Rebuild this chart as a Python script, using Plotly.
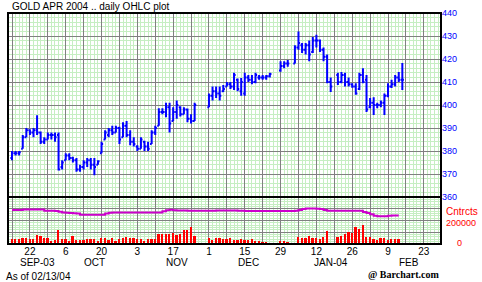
import pandas as pd
import plotly.graph_objects as go

# ---------------- data ----------------
trade_days = [d.strftime("%Y-%m-%d") for d in pd.bdate_range("2003-09-15", "2004-02-27")]
n_data = 110

opens = [377,379,379,381,386,389,388,389,388,384,
         385,387,387,387,373,376,378,377,376,372,
         373,375,376,374,374,379,385,387,389,388,
         390,386,391,387,384,382,381,384,382,383,
         388,391,397,397,399,393,397,399,396,398,
         394,393,None,None,None,399,404,406,405,406,
         408,409,408,411,406,405,412,411,410,412,
         412,412,412.5,None,None,415,417,418,None,418,
         425,426,424,426,423,428,428,424,421,410,
         None,413,410,413,410,409,408,407,413,411,
         399,401,400,400,401,404,408,409,412,411]
highs = [380,380,380,387,390,389.5,390,395.5,388.5,386,
         388,388,388,388,376,379,379,377.5,377,374,
         376,377,377,377,376,384,389,390,391,391,
         390.5,392.5,393,389,386,382.5,386,384.5,384,389,
         391,398.6,398.6,401,401,399,402,399.5,399,398.5,
         396,401,None,None,None,405,408,408,408,408.7,
         410,410,414,411.5,411.7,414,413,413,414,413,
         413,413,414,None,None,419,419,419.6,None,426,
         432,427,427,428,429.6,430.5,428.5,425,422,412,
         None,414,414.4,414,412,409.5,409.5,414,416,413,
         403,403.4,401,402,405,409.5,411,413,414.4,418.3]
lows = [376,378,378,381,386,387,386,387,383,383,
        385,385,384,371.5,372,376,376,375,371,371,
        372,373,372,369.5,374,379,385,386,387,388,
        383,386,386,382.5,382,380,381,380,380,383,
        387,391,396,394.7,388,393,394,395,396,392.5,
        392,393,None,None,None,399,402,403,402,405.6,
        408,407,406.5,406,404,404,410,409,409.5,411,
        411,411,412,None,None,414.5,416,416.6,None,418,
        424,422.6,422,419,422.6,425,423,419,409.5,405.6,
        None,408.7,409.5,408,408,407.5,404.5,406.5,409.5,397,
        398.6,395.6,398.6,399,395.6,403.4,407.4,408,410,406.5]
closes = [379,379,379.5,386,389,388,389,388,384,385,
          387,387,386,372,375,378,377,376,372,373,
          375,376,374,373,375.5,383,388,389,388,390,
          385,391,387,384,383,381,385,382,381,388,
          390,397,397,399,392,397,400,396,398,394,
          393,400,None,None,None,404,406,405,404,407,
          409,408,413,407,410,412,411,410,413,412,
          412,412.5,413.5,None,None,417,418,418,None,425,
          427,424,426,422,428,428,424,421,410,408,
          None,410,413,410,409,408,405,413,410,398,
          401,400,400,401,404,408,409,412,411,411]

volume = [40000,40000,46000,53000,53000,40000,46000,76000,67000,53000,
          53000,29000,37000,116000,43000,43000,23000,67000,32000,34000,
          34000,43000,43000,43000,23000,53000,53000,32000,53000,23000,
          46000,53000,61000,53000,53000,43000,43000,23000,43000,43000,
          43000,84000,81000,84000,84000,96000,76000,84000,116000,116000,
          148000,67000,None,None,None,53000,37000,53000,53000,46000,
          46000,53000,37000,37000,43000,34000,37000,46000,23000,23000,
          17000,12000,None,None,None,23000,23000,12000,None,None,
          61000,53000,53000,70000,53000,53000,43000,61000,110000,None,
          None,58000,64000,84000,99000,96000,148000,127000,163000,58000,
          58000,40000,32000,53000,53000,32000,46000,46000,46000,None]

open_interest = [289,289,289,294,294,294,294,294,294,284,
                 283,282,280,274,268,265,263,262,259,250,
                 248,248,248,248,248,249,260,266,268,268,
                 268,268,268,268,268,268,268,268,268,268,
                 268,268,278,288,291,287,285,285,285,284,
                 283,283,283,283,283,283,284,285,285,285,
                 285,285,285,284,283,281,280,280,280,280,
                 280,280,280,280,280,280,280,280,280,283,
                 290,298,303,303,302,300,297,289,284,283,
                 283,283,283,283,283,283,283,283,273,263,
                 253,240,237,237,237,240,242,242,242,None]
open_interest = [v * 1000 if v is not None else None for v in open_interest]

grid_mondays = ["2003-09-15","2003-09-22","2003-09-29","2003-10-06","2003-10-13","2003-10-20",
                "2003-10-27","2003-11-03","2003-11-10","2003-11-17","2003-11-24","2003-12-01",
                "2003-12-08","2003-12-15","2003-12-22","2003-12-29","2004-01-05","2004-01-12",
                "2004-01-19","2004-01-26","2004-02-02","2004-02-09","2004-02-16","2004-02-23"]
day_labels = ["","22","","6","","20","","3","","17","","1","","15","","29","","12","","26","","9","","23"]

month_dates = ["2003-09-24","2003-10-16","2003-11-18","2003-12-16","2004-01-16","2004-02-17"]
month_labels = ["SEP-03","OCT","NOV","DEC","JAN-04","FEB"]

price_ticks = [360, 370, 380, 390, 400, 410, 420, 430, 440]

# ---------------- figure ----------------
x = list(range(n_data))
idx = {d: i for i, d in enumerate(trade_days)}

BLUE = "#0000ff"
RED = "#ff0000"
DARK = "#808080"
GREEN = "#c6eec2"
split = 47 / 231

fig = go.Figure()
fig.add_trace(go.Ohlc(x=x, open=opens, high=highs, low=lows, close=closes,
                      increasing=dict(line=dict(color=BLUE, width=2)),
                      decreasing=dict(line=dict(color=BLUE, width=2)),
                      tickwidth=0.45, xaxis="x", yaxis="y", showlegend=False,
                      hoverinfo="skip"))
fig.add_trace(go.Bar(x=x, y=volume, marker=dict(color=RED, line=dict(width=0)),
                     width=0.5, xaxis="x", yaxis="y2", showlegend=False))
fig.add_trace(go.Scatter(x=x, y=open_interest, mode="lines",
                         line=dict(color="#cc00cc", width=2, shape="hv"),
                         connectgaps=True, xaxis="x", yaxis="y2", showlegend=False))

font = "Liberation Sans, Arial, sans-serif"
fig.update_layout(
    width=482, height=282,
    margin=dict(l=8, r=41, t=13, b=38),
    paper_bgcolor="white", plot_bgcolor="white",
    font=dict(family=font, size=10, color="black"),
    bargap=0,
    xaxis=dict(domain=[0, 1], range=[-1.12, 119.8], anchor="y2",
               tickmode="array", tickvals=[idx[d] for d in grid_mondays], ticktext=day_labels,
               showgrid=True, gridcolor=DARK, gridwidth=1, ticks="",
               minor=dict(tickmode="linear", tick0=0, dtick=1, showgrid=True,
                          gridcolor=GREEN, gridwidth=1),
               zeroline=False, showline=False, rangeslider=dict(visible=False),
               tickfont=dict(size=10, color="black")),
    yaxis=dict(domain=[split, 1], range=[360, 440], side="right", anchor="x",
               tickmode="array", tickvals=price_ticks, ticks="",
               showgrid=True, gridcolor=DARK, gridwidth=1,
               minor=dict(tickmode="linear", tick0=360, dtick=2, showgrid=True,
                          gridcolor=GREEN, gridwidth=1),
               zeroline=False, tickfont=dict(size=9, color=BLUE)),
    yaxis2=dict(domain=[0, split], range=[0, 400000], side="right", anchor="x",
                tickmode="array", tickvals=[0, 100000, 200000, 300000, 400000],
                showticklabels=False, ticks="",
                showgrid=True, gridcolor=DARK, gridwidth=1,
                minor=dict(tickmode="linear", tick0=0, dtick=20000, showgrid=True,
                           gridcolor=GREEN, gridwidth=1),
                zeroline=False),
    shapes=[
        dict(type="rect", xref="paper", yref="paper", x0=0, x1=1, y0=0, y1=1,
             line=dict(color="black", width=2)),
        dict(type="line", xref="paper", yref="paper", x0=0, x1=1, y0=split, y1=split,
             line=dict(color="black", width=2)),
    ],
)

def px_x(px):
    return (px - 8) / 433

def px_y(py):
    return (244 - py) / 231

ann = [
    dict(text="GOLD APR 2004 .. daily OHLC plot", x=px_x(10), y=px_y(7), xanchor="left",
         font=dict(size=10, color="black")),
    dict(text="As of 02/13/04", x=px_x(4), y=px_y(276), xanchor="left",
         font=dict(size=10, color="black")),
    dict(text="<b>@ Barchart.com</b>", x=px_x(441), y=px_y(274), xanchor="right",
         font=dict(size=10, color="black", family="Liberation Serif, Times New Roman, serif")),
    dict(text="Cntrcts", x=px_x(444), y=px_y(211), xanchor="left",
         font=dict(size=10, color=RED)),
    dict(text="200000", x=px_x(444), y=px_y(223), xanchor="left",
         font=dict(size=9, color=RED)),
    dict(text="0", x=px_x(459), y=px_y(243), xanchor="center",
         font=dict(size=9, color=RED)),
]
for a in ann:
    a.update(xref="paper", yref="paper", yanchor="middle", showarrow=False)
for d, lab in zip(month_dates, month_labels):
    ann.append(dict(text=lab, x=idx[d], xref="x", y=px_y(262), yref="paper",
                    xanchor="center", yanchor="middle", showarrow=False,
                    font=dict(size=10, color="black")))
fig.update_layout(annotations=ann)

fig.write_html("out.html")
